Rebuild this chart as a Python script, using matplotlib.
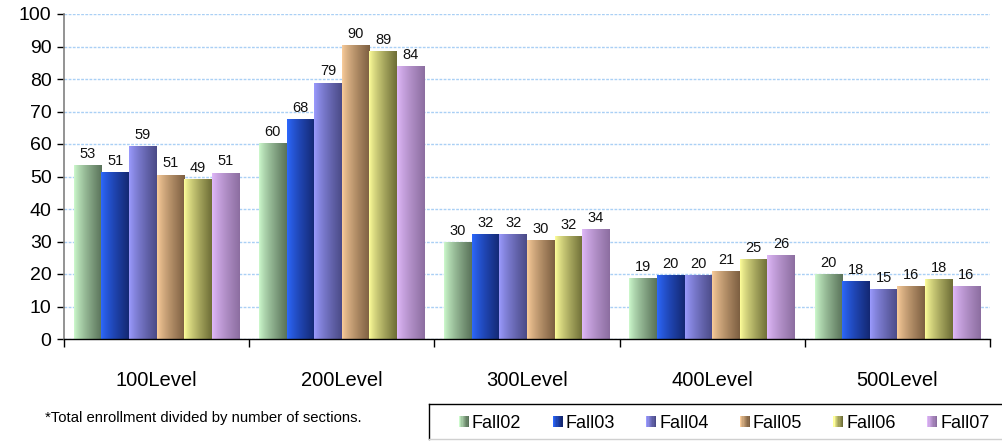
import matplotlib
matplotlib.use("Agg")

import matplotlib.pyplot as plt
import numpy as np
from matplotlib.patches import Rectangle
from matplotlib.lines import Line2D
from matplotlib.legend_handler import HandlerBase

# ── data ────────────────────────────────────────────────────────────────────
levels = ["100Level", "200Level", "300Level", "400Level", "500Level"]
terms = ["Fall02", "Fall03", "Fall04", "Fall05", "Fall06", "Fall07"]

fall02 = [53.4, 60.4, 29.8, 18.8, 19.9]
fall03 = [51.4, 67.6, 32.3, 19.7, 17.8]
fall04 = [59.4, 78.9, 32.3, 19.7, 15.3]
fall05 = [50.6, 90.4, 30.4, 20.9, 16.3]
fall06 = [49.1, 88.6, 31.7, 24.6, 18.4]
fall07 = [51.2, 84.1, 33.8, 25.8, 16.3]
series = [fall02, fall03, fall04, fall05, fall06, fall07]

# gradient colours (light left edge -> dark right edge)
GRAD = [
    ((205, 250, 205), (90, 115, 90)),
    ((45, 105, 255), (20, 40, 115)),
    ((155, 155, 255), (75, 75, 135)),
    ((250, 205, 155), (125, 95, 65)),
    ((255, 255, 155), (110, 110, 55)),
    ((225, 185, 250), (140, 110, 160)),
]

plt.rcParams.update({
    "font.family": ["Liberation Sans", "DejaVu Sans"],
})


def gradient_img(c0, c1, n=64):
    c0 = np.array(c0) / 255.0
    c1 = np.array(c1) / 255.0
    t = np.linspace(0, 1, n) ** 0.8
    return (c0[None, :] * (1 - t[:, None]) + c1[None, :] * t[:, None])[None, :, :]


class GradientHandler(HandlerBase):
    def __init__(self, c0, c1):
        super().__init__()
        self.c0, self.c1 = c0, c1

    def create_artists(self, legend, orig_handle, xdescent, ydescent,
                       width, height, fontsize, trans):
        n = 8
        img = gradient_img(self.c0, self.c1, n)[0]
        arts = []
        for k in range(n):
            r = Rectangle((k * width / n - xdescent, -ydescent), width / n * 1.05, height,
                          facecolor=img[k], edgecolor="none", transform=trans)
            arts.append(r)
        return arts


# ── figure ──────────────────────────────────────────────────────────────────
W, H = 1003, 441
fig = plt.figure(figsize=(W / 100, H / 100), dpi=100)
ax = fig.add_axes([64 / W, 1 - 339 / H, 926 / W, 325 / H])

x = np.arange(len(levels))
bw = 0.149

for i, (vals, (c0, c1)) in enumerate(zip(series, GRAD)):
    offs = (i - 2.5) * bw
    bars = ax.bar(x + offs, vals, width=bw, facecolor="none", edgecolor="none", zorder=2)
    img = gradient_img(c0, c1)
    for b, v in zip(bars, vals):
        bx, by = b.get_x(), b.get_y()
        im = ax.imshow(img, extent=[bx, bx + b.get_width(), by, by + b.get_height()],
                       aspect="auto", interpolation="bilinear", zorder=2)
        im.set_clip_path(b)
        ax.annotate(f"{v:.0f}", (bx + b.get_width() / 2, v), xytext=(0, 3),
                    textcoords="offset points", ha="center", va="bottom",
                    fontsize=10.5, color="#111111", zorder=3)

ax.set_xlim(-0.5, len(levels) - 0.5)
ax.set_ylim(0, 100)

# grid
ax.set_yticks(np.arange(0, 101, 10))
ax.yaxis.grid(True, color="#aad0f5", linestyle=(0, (2, 1)), linewidth=1.0)
ax.set_axisbelow(True)

# axes styling
for s in ["top", "right"]:
    ax.spines[s].set_visible(False)
ax.spines["left"].set_color("#808080")
ax.spines["left"].set_linewidth(1.2)
ax.spines["bottom"].set_color("black")
ax.spines["bottom"].set_linewidth(1.0)

ax.tick_params(axis="y", length=5, width=1, color="black", labelsize=14, pad=4)
ax.set_xticks(x)
ax.set_xticklabels(levels)
ax.tick_params(axis="x", which="major", length=0, labelsize=14.5, pad=23)
ax.set_xticks(np.arange(-0.5, len(levels)), minor=True)
ax.tick_params(axis="x", which="minor", length=6, width=1, color="black")

# footnote
fig.text(45 / W, 1 - 418 / H, "*Total enrollment divided by number of sections.",
         fontsize=10.7, ha="left", va="center")

# legend frame (runs off the right edge as in the source)
fig.add_artist(Line2D([429 / W, 1.01], [1 - 403.5 / H] * 2, color="black", lw=1.0,
                      transform=fig.transFigure))
fig.add_artist(Line2D([429.5 / W] * 2, [1 - 403.5 / H, 1 - 439 / H], color="black", lw=1.0,
                      transform=fig.transFigure))
fig.add_artist(Line2D([429 / W, 1.01], [1 - 439 / H] * 2, color="#d0d0d0", lw=1.0,
                      transform=fig.transFigure))

# legend entries
handles = [Rectangle((0, 0), 1, 1) for _ in terms]
hmap = {h: GradientHandler(c0, c1) for h, (c0, c1) in zip(handles, GRAD)}
leg = fig.legend(handles, terms, handler_map=hmap, loc="center left",
                 bbox_to_anchor=(459 / W, 1 - 423 / H), ncol=6, fontsize=13,
                 frameon=False, handlelength=0.55, handleheight=0.55,
                 handletextpad=0.17, columnspacing=1.73,
                 borderpad=0, borderaxespad=0)

fig.savefig("out.png", dpi=100)
